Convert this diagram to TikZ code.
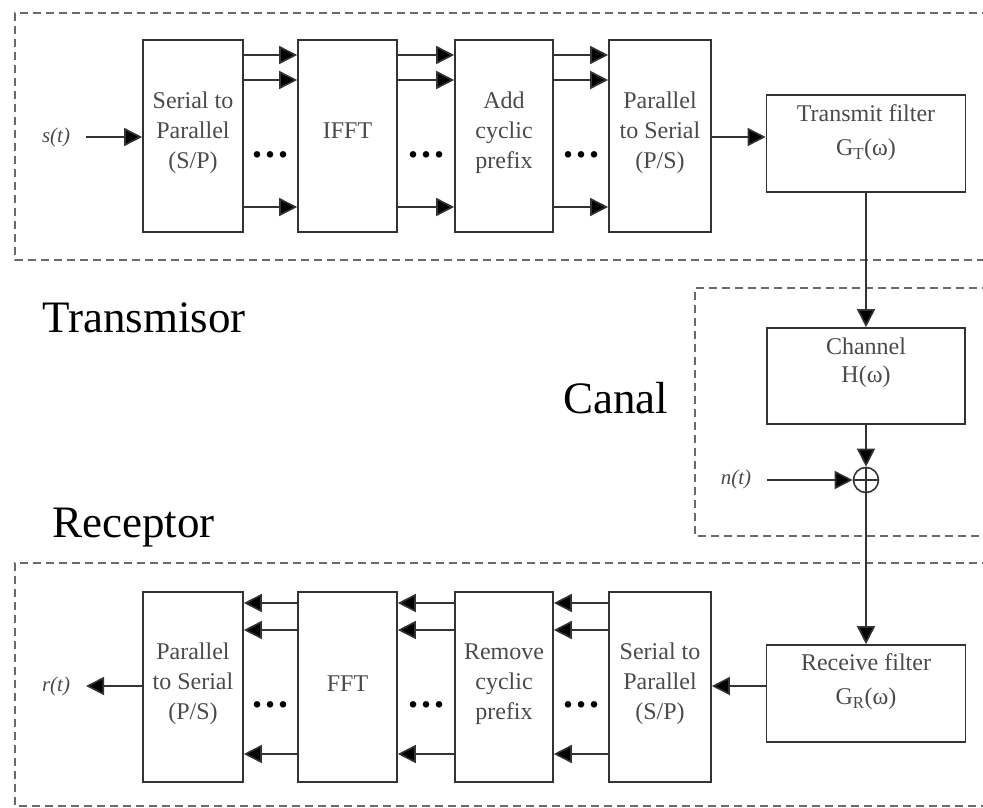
\documentclass[tikz,border=0pt]{standalone}
\usepackage{fontspec}
\setmainfont{Liberation Serif}
\usetikzlibrary{arrows.meta,calc}
\definecolor{linec}{HTML}{333333}
\definecolor{textc}{HTML}{4A4A4A}
\definecolor{dashc}{HTML}{6A6A6A}
\tikzset{
  blk/.style={draw=linec, line width=1.6pt, minimum width=100pt, minimum height=192pt, inner sep=0pt},
  fil/.style={draw=linec, line width=1.6pt, minimum width=199pt, minimum height=97pt, inner sep=0pt},
  btxt/.style={text=textc, align=center, font=\fontsize{24}{30}\selectfont, inner sep=0pt},
  ftxt/.style={text=textc, align=center, font=\fontsize{24}{34}\selectfont, inner sep=0pt},
  arr/.style={draw=linec, line width=1.6pt, -{Triangle[length=18pt,width=18pt,fill=black]}},
  ln/.style={draw=linec, line width=1.6pt},
  dbox/.style={draw=dashc, line width=1.6pt, dash pattern=on 8pt off 5pt},
  big/.style={font=\fontsize{45}{50}\selectfont, text=black, inner sep=0pt},
  sig/.style={font=\fontsize{21}{24}\selectfont\itshape, text=textc, inner sep=0pt},
  dots/.style={font=\fontsize{40}{40}\selectfont\bfseries, text=black, inner sep=0pt},
}
\newcommand{\mydots}{.\hspace{3pt}.\hspace{3pt}.}
\begin{document}
\begin{tikzpicture}[x=1pt,y=-1pt]
\useasboundingbox (0,0) rectangle (983,808);
\begin{scope}
\clip (0,0) rectangle (983,808);
% dashed groups
\draw[dbox] (990,13) -- (15,13) -- (15,260) -- (990,260);
\draw[dbox] (990,288) -- (695,288) -- (695,536) -- (990,536);
\draw[dbox] (990,563) -- (15,563) -- (15,806) -- (990,806);
\end{scope}

% transmitter blocks
\node[blk, minimum width=100pt] (t1) at (193,136) {};
\node[blk, minimum width=99pt] (t2) at (347.5,136) {};
\node[blk, minimum width=98pt] (t3) at (504,136) {};
\node[blk, minimum width=102pt] (t4) at (660,136) {};
\node[btxt] (t1x) at (193,133) {Serial to\\Parallel\\(S/P)};
\node[btxt] (t2x) at (347.5,131) {IFFT};
\node[btxt] (t3x) at (504,133) {Add\\cyclic\\prefix};
\node[btxt] (t4x) at (660,133) {Parallel\\to Serial\\(P/S)};
\node[fil] (tf) at (866,143.5) {};
\node[ftxt] (tfx) at (866,133) {Transmit filter\\G\textsubscript{T}(ω)};

% receiver blocks
\node[blk, minimum width=100pt, minimum height=190pt] (r1) at (193,687) {};
\node[blk, minimum width=99pt, minimum height=190pt] (r2) at (347.5,687) {};
\node[blk, minimum width=98pt, minimum height=190pt] (r3) at (504,687) {};
\node[blk, minimum width=102pt, minimum height=190pt] (r4) at (660,687) {};
\node[btxt] (r1x) at (193,684) {Parallel\\to Serial\\(P/S)};
\node[btxt] (r2x) at (347.5,684) {FFT};
\node[btxt] (r3x) at (504,684) {Remove\\cyclic\\prefix};
\node[btxt] (r4x) at (660,684) {Serial to\\Parallel\\(S/P)};
\node[fil] (rf) at (866,693.5) {};
\node[ftxt] (rfx) at (866,682) {Receive filter\\G\textsubscript{R}(ω)};

% channel
\node[fil, minimum width=198pt, minimum height=96pt] (ch) at (866,376) {};
\node[ftxt, font=\fontsize{24}{28}\selectfont] (chx) at (866,363) {Channel\\H(ω)};
\node[draw=linec, line width=1.6pt, circle, minimum size=25pt, inner sep=0pt] (sum) at (866,480) {};
\draw[ln] (sum.north) -- (sum.south);
\draw[ln] (sum.west) -- (sum.east);

% signals
\node[sig] (s) at (56,137) {s(t)};
\node[sig] (r) at (56,686) {r(t)};
\node[sig] (n) at (736,479) {n(t)};
\coordinate (sEnd) at (86,137);
\coordinate (rEnd) at (86,686);
\coordinate (nEnd) at (767,480);
\draw[arr] (sEnd) -- (t1.west |- sEnd);
\draw[arr] (r1.west |- rEnd) -- (rEnd);
\draw[arr] (nEnd) -- (sum.west);

% top connectors
\foreach \a/\b in {t1/t2,t2/t3,t3/t4}{
  \draw[arr] (\a.east |- 0,55) -- (\b.west |- 0,55);
  \draw[arr] (\a.east |- 0,80) -- (\b.west |- 0,80);
  \draw[arr] (\a.east |- 0,207) -- (\b.west |- 0,207);
}
\draw[arr] (t4.east |- 0,137) -- (tf.west |- 0,137);
% bottom connectors
\foreach \a/\b in {r2/r1,r3/r2,r4/r3}{
  \draw[arr] (\a.west |- 0,603) -- (\b.east |- 0,603);
  \draw[arr] (\a.west |- 0,630) -- (\b.east |- 0,630);
  \draw[arr] (\a.west |- 0,754) -- (\b.east |- 0,754);
}
\draw[arr] (rf.west |- 0,686) -- (r4.east |- 0,686);

% vertical chain
\draw[arr] (tf.south) -- (ch.north);
\draw[arr] (ch.south) -- (sum.north);
\draw[arr] (sum.south) -- (rf.north);

% dots
\node[dots] (d1) at (270,155) {\mydots};
\node[dots] (d2) at (426,155) {\mydots};
\node[dots] (d3) at (581,155) {\mydots};
\node[dots] (d4) at (270,705) {\mydots};
\node[dots] (d5) at (426,705) {\mydots};
\node[dots] (d6) at (581,705) {\mydots};

% labels
\node[big, anchor=base west] (lt) at (42,332) {Transmisor};
\node[big, anchor=base west] (lc) at (563,413) {Canal};
\node[big, anchor=base west] (lr) at (52,537) {Receptor};
\end{tikzpicture}
\end{document}
